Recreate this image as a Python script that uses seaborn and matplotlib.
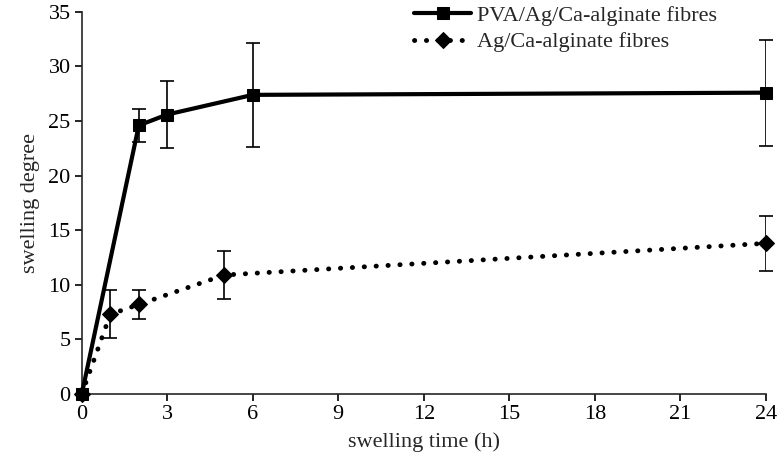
import matplotlib
matplotlib.use("Agg")
import matplotlib.pyplot as plt
import pandas as pd
import seaborn as sns

# swelling data
pva_time = [0, 2, 3, 6, 24]
pva_mean = [0, 24.6, 25.6, 27.4, 27.6]
pva_err = [0, 1.5, 3.05, 4.75, 4.85]

ag_time = [0, 1, 2, 5, 24]
ag_mean = [0, 7.3, 8.2, 10.9, 13.8]
ag_err = [0, 2.2, 1.35, 2.2, 2.5]

x_ticks = [0, 3, 6, 9, 12, 15, 18, 21, 24]
y_ticks = [0, 5, 10, 15, 20, 25, 30, 35]

PVA_LABEL = "PVA/Ag/Ca-alginate fibres"
AG_LABEL = "Ag/Ca-alginate fibres"

sns.set_style("ticks")
plt.rcParams["font.family"] = ["Liberation Serif", "DejaVu Serif"]

df = pd.concat([
    pd.DataFrame({"time": pva_time, "swelling": pva_mean, "err": pva_err, "fibre": PVA_LABEL}),
    pd.DataFrame({"time": ag_time, "swelling": ag_mean, "err": ag_err, "fibre": AG_LABEL}),
])

fig = plt.figure(figsize=(7.79, 4.66), dpi=100)
ax = fig.add_axes([0.105, 0.1545, 0.878, 0.82])

for label, sub in df.groupby("fibre", sort=False):
    ax.errorbar(sub["time"], sub["swelling"], yerr=sub["err"], fmt="none",
                ecolor="black", elinewidth=1.2, capsize=5, capthick=1.2, zorder=2)

sns.lineplot(data=df, x="time", y="swelling", hue="fibre", style="fibre",
             palette=["black", "black"], dashes=[(None, None), (0.05, 2.4)],
             markers=["s", "D"], markersize=8, linewidth=3,
             markeredgecolor="black", ax=ax, zorder=3)

for ln in ax.get_lines():
    ln.set_dash_capstyle("round")
    ln.set_clip_on(False)
    if ln.get_linestyle() not in ("-", "None"):
        ln.set_linewidth(3.5)

ax.set_xlim(0, 24)
ax.set_ylim(0, 35)
ax.set_xticks(x_ticks)
ax.set_yticks(y_ticks)
ax.spines["top"].set_visible(False)
ax.spines["right"].set_visible(False)
ax.spines["left"].set_linewidth(1.2)
ax.spines["bottom"].set_linewidth(1.2)
ax.tick_params(direction="out", length=5, width=1.2, labelsize=16, colors="black", pad=3)
ax.set_xlabel("swelling time (h)", fontsize=16, labelpad=6)
ax.set_ylabel("swelling degree", fontsize=16, labelpad=6)

leg = ax.legend(loc="upper left", bbox_to_anchor=(0.456, 1.07), frameon=False,
                fontsize=16, handlelength=2.6, handletextpad=0.25,
                labelspacing=0.28, title=None)
for h in leg.legend_handles:
    h.set_dash_capstyle("round")
    if h.get_linestyle() not in ("-", "None"):
        h.set_linewidth(3.5)

fig.savefig("out.png", dpi=100)
